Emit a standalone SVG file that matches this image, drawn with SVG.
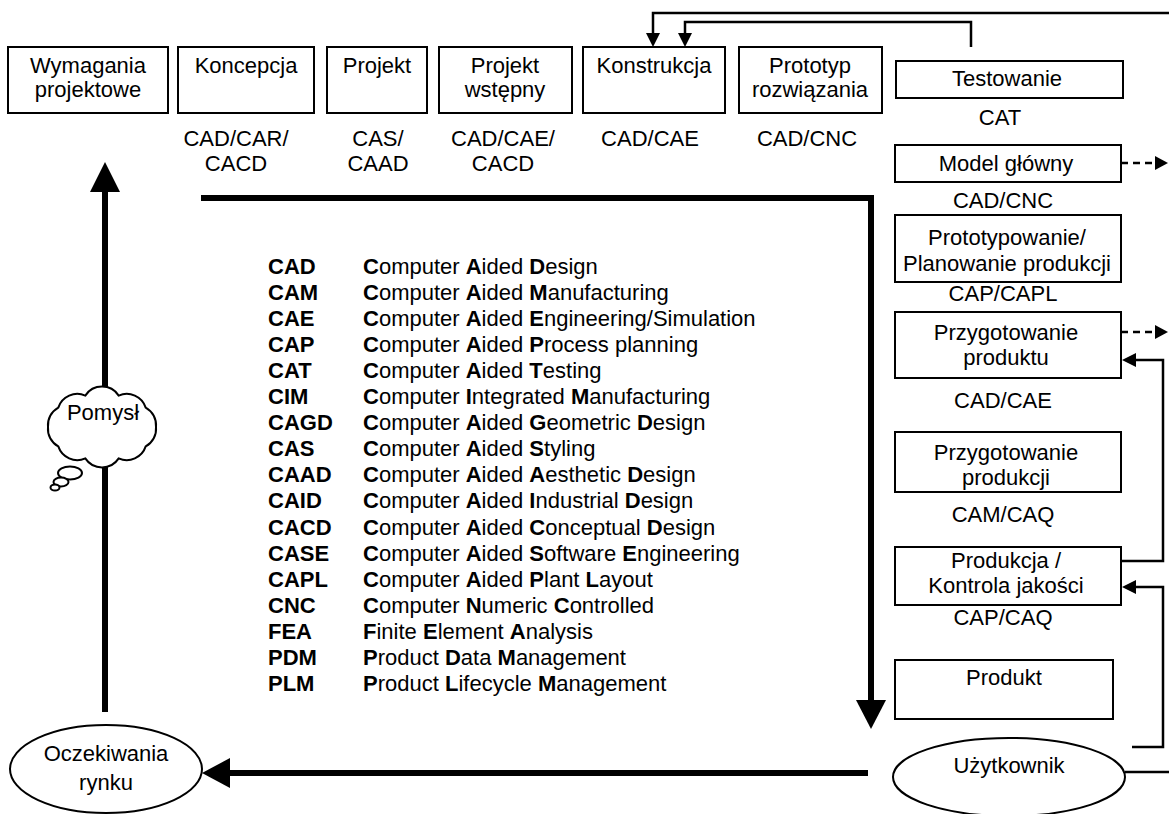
<svg xmlns="http://www.w3.org/2000/svg" width="1169" height="814" viewBox="0 0 1169 814">
<style>
text{font-family:"Liberation Sans",Arial,sans-serif;font-size:22px;fill:#000}
.c{text-anchor:middle}
.b{font-weight:bold}
.box{fill:#fff;stroke:#000;stroke-width:2}
.thin{fill:none;stroke:#000;stroke-width:2.5}
.dash{fill:none;stroke:#000;stroke-width:2.5;stroke-dasharray:7 5}
.thick{fill:none;stroke:#000;stroke-width:6}
.head{fill:#000;stroke:none}
</style>
<rect width="1169" height="814" fill="#fff"/>
<g id="connectors">
<path class="thin" d="M1169,13 H653 V34"/>
<polygon class="head" points="646,33 660,33 653,47"/>
<path class="thin" d="M971,47 V22 H685 V34"/>
<polygon class="head" points="678,33 692,33 685,47"/>
<path class="dash" d="M1121,163 H1156"/>
<polygon class="head" points="1155,156 1155,170 1168,163"/>
<path class="dash" d="M1121,332 H1156"/>
<polygon class="head" points="1155,325 1155,339 1168,332"/>
<path class="thin" d="M1121,561 H1163 V360 H1134"/>
<polygon class="head" points="1136,353 1136,367 1122,360"/>
<path class="thin" d="M1132,747 H1163 V587 H1134"/>
<polygon class="head" points="1136,580 1136,594 1122,587"/>
<path class="thin" d="M1125,772 H1169"/>
<path class="thick" d="M201,198 H871 V702"/>
<polygon class="head" points="856,700 886,700 871,729"/>
<path class="thick" d="M868,773 H228"/>
<polygon class="head" points="230,758 230,788 202,773"/>
<path class="thick" d="M105,712 V190"/>
<polygon class="head" points="90,192 120,192 105,162"/>
</g>
<g id="wymagania"><rect class="box" x="8" y="47" width="160" height="66"/><text class="c" x="88" y="73">Wymagania</text><text class="c" x="88" y="97">projektowe</text></g>
<g id="koncepcja"><rect class="box" x="178" y="47" width="136" height="66"/><text class="c" x="246" y="73">Koncepcja</text><text class="c" x="236" y="146">CAD/CAR/</text><text class="c" x="236" y="171">CACD</text></g>
<g id="projekt"><rect class="box" x="327" y="47" width="100" height="66"/><text class="c" x="377" y="73">Projekt</text><text class="c" x="378" y="146">CAS/</text><text class="c" x="378" y="171">CAAD</text></g>
<g id="projekt-wstepny"><rect class="box" x="439" y="47" width="133" height="66"/><text class="c" x="505" y="73">Projekt</text><text class="c" x="505" y="97">wstępny</text><text class="c" x="503" y="146">CAD/CAE/</text><text class="c" x="503" y="171">CACD</text></g>
<g id="konstrukcja"><rect class="box" x="583" y="47" width="142" height="66"/><text class="c" x="654" y="73">Konstrukcja</text><text class="c" x="650" y="146">CAD/CAE</text></g>
<g id="prototyp"><rect class="box" x="739" y="47" width="143" height="66"/><text class="c" x="810" y="73">Prototyp</text><text class="c" x="810" y="97">rozwiązania</text><text class="c" x="807" y="146">CAD/CNC</text></g>
<g id="testowanie"><rect class="box" x="896" y="61" width="227" height="37"/><text class="c" x="1007" y="86">Testowanie</text><text class="c" x="1000" y="125">CAT</text></g>
<g id="model"><rect class="box" x="895" y="145" width="226" height="37"/><text class="c" x="1006" y="171">Model główny</text><text class="c" x="1003" y="208">CAD/CNC</text></g>
<g id="prototypowanie"><rect class="box" x="895" y="215" width="226" height="67"/><text class="c" x="1007" y="245">Prototypowanie/</text><text class="c" x="1007" y="271">Planowanie produkcji</text><text class="c" x="1003" y="301">CAP/CAPL</text></g>
<g id="przyg-produktu"><rect class="box" x="895" y="312" width="226" height="66"/><text class="c" x="1006" y="340">Przygotowanie</text><text class="c" x="1006" y="365">produktu</text><text class="c" x="1003" y="408">CAD/CAE</text></g>
<g id="przyg-produkcji"><rect class="box" x="895" y="432" width="226" height="60"/><text class="c" x="1006" y="460">Przygotowanie</text><text class="c" x="1006" y="485">produkcji</text><text class="c" x="1003" y="522">CAM/CAQ</text></g>
<g id="produkcja"><rect class="box" x="895" y="547" width="226" height="58"/><text class="c" x="1006" y="568">Produkcja /</text><text class="c" x="1006" y="593">Kontrola jakości</text><text class="c" x="1003" y="625">CAP/CAQ</text></g>
<g id="produkt"><rect class="box" x="895" y="660" width="218" height="59"/><text class="c" x="1004" y="685">Produkt</text></g>
<g id="uzytkownik"><ellipse class="box" cx="1009" cy="777" rx="116" ry="39"/><text class="c" x="1009" y="773">Użytkownik</text></g>
<g id="oczekiwania"><ellipse class="box" cx="106" cy="769" rx="96" ry="44"/><text class="c" x="106" y="761">Oczekiwania</text><text class="c" x="106" y="790">rynku</text></g>
<g id="pomysl">
<path class="box" d="M48,427 A20,20 0 0 1 58.3,407.6 A20,20 0 0 1 85.3,395.6 A20,20 0 0 1 118.7,395.6 A20,20 0 0 1 145.7,407.6 A20,20 0 0 1 156,427 A20,20 0 0 1 145.7,446.4 A20,20 0 0 1 118.7,458.4 A20,20 0 0 1 85.3,458.4 A20,20 0 0 1 58.3,446.4 A20,20 0 0 1 48,427 Z"/>
<ellipse class="box" cx="70" cy="473" rx="12" ry="6.5"/>
<ellipse class="box" cx="61" cy="482" rx="7.5" ry="4.5"/>
<ellipse class="box" cx="55" cy="487.5" rx="4.5" ry="3"/>
<text class="c" x="103" y="420">Pomysł</text>
</g>
<g id="legend">
<text class="b" x="268" y="274">CAD</text><text x="363" y="274"><tspan class="b">C</tspan>omputer <tspan class="b">A</tspan>ided <tspan class="b">D</tspan>esign</text>
<text class="b" x="268" y="300">CAM</text><text x="363" y="300"><tspan class="b">C</tspan>omputer <tspan class="b">A</tspan>ided <tspan class="b">M</tspan>anufacturing</text>
<text class="b" x="268" y="326">CAE</text><text x="363" y="326"><tspan class="b">C</tspan>omputer <tspan class="b">A</tspan>ided <tspan class="b">E</tspan>ngineering/Simulation</text>
<text class="b" x="268" y="352">CAP</text><text x="363" y="352"><tspan class="b">C</tspan>omputer <tspan class="b">A</tspan>ided <tspan class="b">P</tspan>rocess planning</text>
<text class="b" x="268" y="378">CAT</text><text x="363" y="378"><tspan class="b">C</tspan>omputer <tspan class="b">A</tspan>ided <tspan class="b">T</tspan>esting</text>
<text class="b" x="268" y="404">CIM</text><text x="363" y="404"><tspan class="b">C</tspan>omputer <tspan class="b">I</tspan>ntegrated <tspan class="b">M</tspan>anufacturing</text>
<text class="b" x="268" y="430">CAGD</text><text x="363" y="430"><tspan class="b">C</tspan>omputer <tspan class="b">A</tspan>ided <tspan class="b">G</tspan>eometric <tspan class="b">D</tspan>esign</text>
<text class="b" x="268" y="456">CAS</text><text x="363" y="456"><tspan class="b">C</tspan>omputer <tspan class="b">A</tspan>ided <tspan class="b">S</tspan>tyling</text>
<text class="b" x="268" y="482">CAAD</text><text x="363" y="482"><tspan class="b">C</tspan>omputer <tspan class="b">A</tspan>ided <tspan class="b">A</tspan>esthetic <tspan class="b">D</tspan>esign</text>
<text class="b" x="268" y="508">CAID</text><text x="363" y="508"><tspan class="b">C</tspan>omputer <tspan class="b">A</tspan>ided <tspan class="b">I</tspan>ndustrial <tspan class="b">D</tspan>esign</text>
<text class="b" x="268" y="535">CACD</text><text x="363" y="535"><tspan class="b">C</tspan>omputer <tspan class="b">A</tspan>ided <tspan class="b">C</tspan>onceptual <tspan class="b">D</tspan>esign</text>
<text class="b" x="268" y="561">CASE</text><text x="363" y="561"><tspan class="b">C</tspan>omputer <tspan class="b">A</tspan>ided <tspan class="b">S</tspan>oftware <tspan class="b">E</tspan>ngineering</text>
<text class="b" x="268" y="587">CAPL</text><text x="363" y="587"><tspan class="b">C</tspan>omputer <tspan class="b">A</tspan>ided <tspan class="b">P</tspan>lant <tspan class="b">L</tspan>ayout</text>
<text class="b" x="268" y="613">CNC</text><text x="363" y="613"><tspan class="b">C</tspan>omputer <tspan class="b">N</tspan>umeric <tspan class="b">C</tspan>ontrolled</text>
<text class="b" x="268" y="639">FEA</text><text x="363" y="639"><tspan class="b">F</tspan>inite <tspan class="b">E</tspan>lement <tspan class="b">A</tspan>nalysis</text>
<text class="b" x="268" y="665">PDM</text><text x="363" y="665"><tspan class="b">P</tspan>roduct <tspan class="b">D</tspan>ata <tspan class="b">M</tspan>anagement</text>
<text class="b" x="268" y="691">PLM</text><text x="363" y="691"><tspan class="b">P</tspan>roduct <tspan class="b">L</tspan>ifecycle <tspan class="b">M</tspan>anagement</text>
</g>
</svg>
